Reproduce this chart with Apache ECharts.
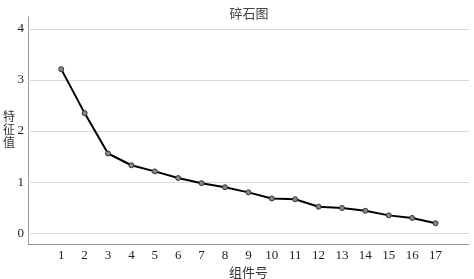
<!DOCTYPE html>
<html><head><meta charset="utf-8">
<script src="https://cdn.jsdelivr.net/npm/echarts@6/dist/echarts.min.js"></script>
<style>html,body{margin:0;padding:0;background:#fff}#c{width:474px;height:279px}</style>
</head><body><div id="c"></div>
<script>
const components = [1,2,3,4,5,6,7,8,9,10,11,12,13,14,15,16,17];
const eigenvalues = [3.21,2.35,1.56,1.33,1.21,1.08,0.98,0.90,0.80,0.68,0.665,0.52,0.495,0.44,0.35,0.30,0.196];
const yTicks = [0,1,2,3,4];
const titleText = '碎石图';
const xName = '组件号';
const yName = '特\n征\n值';

const serif = '"Liberation Serif","Noto Sans CJK SC",serif';
const chart = echarts.init(document.getElementById('c'), null, {renderer:'canvas'});
chart.setOption({
  animation:false,
  title:{text:titleText,left:244,top:3,textAlign:'center',
    textStyle:{fontFamily:serif,fontSize:13,fontWeight:'normal',color:'#444'}},
  grid:{left:28,right:5,top:17,bottom:35,containLabel:false,outerBoundsMode:'none'},
  xAxis:{type:'value',min:-0.42,max:18.43,
    name:xName,nameLocation:'middle',nameGap:23,nameMoveOverlap:false,
    nameTextStyle:{fontFamily:serif,fontSize:13,color:'#333'},
    axisLine:{show:true,onZero:false,lineStyle:{color:'#999',width:1}},
    axisTick:{show:false},
    splitLine:{show:false},
    axisLabel:{customValues:components,fontFamily:serif,fontSize:13,color:'#222',margin:5}},
  yAxis:{type:'value',min:-0.21,max:4.23,
    name:yName,nameLocation:'middle',nameRotate:0,nameGap:13,nameMoveOverlap:false,
    nameTextStyle:{fontFamily:serif,fontSize:12,color:'#333',lineHeight:13},
    axisLine:{show:true,onZero:false,lineStyle:{color:'#999',width:1}},
    axisTick:{show:false},
    splitLine:{show:false},
    axisLabel:{customValues:yTicks,fontFamily:serif,fontSize:13,color:'#222',margin:4}},
  series:[
    {type:'line',data:[],silent:true,z:1,
      markLine:{silent:true,symbol:['none','none'],label:{show:false},
        lineStyle:{color:'#d9d9d9',width:1,type:'solid'},
        data:yTicks.map(v=>({yAxis:v}))}},
    {type:'line',z:5,data:components.map((c,i)=>[c,eigenvalues[i]]),
      lineStyle:{color:'#000',width:2},
      symbol:'circle',symbolSize:5,
      itemStyle:{color:'#888',borderColor:'#333',borderWidth:1}}
  ]
});
</script></body></html>
